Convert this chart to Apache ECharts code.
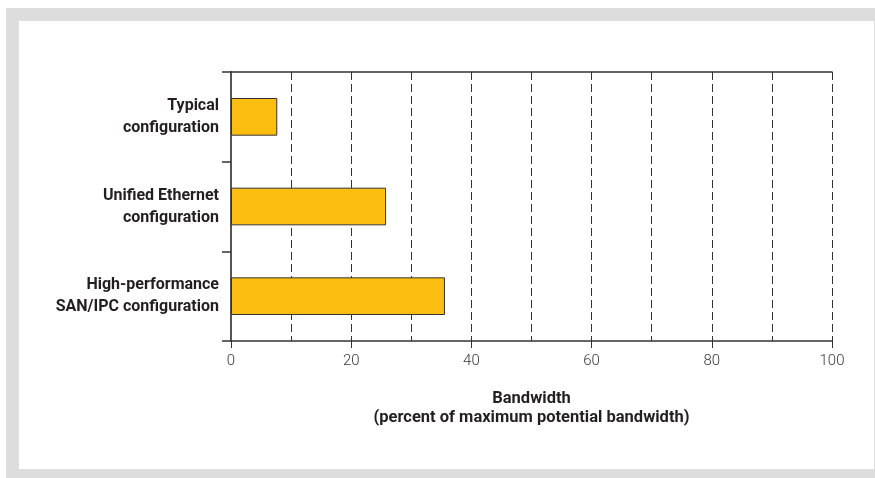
<!DOCTYPE html>
<html>
<head>
<meta charset="utf-8">
<script src="https://cdn.jsdelivr.net/npm/echarts@6/dist/echarts.min.js"></script>
<style>
  html, body { margin: 0; padding: 0; background: #ffffff; }
  #chart { width: 875px; height: 478px; }
</style>
</head>
<body>
<div id="chart"></div>
<script>
// Configurations compared, top to bottom
const categories = [
  'Typical\nconfiguration',
  'Unified Ethernet\nconfiguration',
  'High-performance\nSAN/IPC configuration'
];
// Bandwidth used, percent of maximum potential bandwidth
const bandwidth = [7.7, 25.8, 35.6];
// Bandwidth axis
const axisMin = 0;
const axisMax = 100;
const axisStep = 20;
const axisTitle = 'Bandwidth\n(percent of maximum potential bandwidth)';

const FONT = "Roboto, 'Liberation Sans', sans-serif";
const INK = '#231f20';
const dashed = { type: [8, 4], color: '#333333', width: 1 };

const chart = echarts.init(document.getElementById('chart'), null, { renderer: 'canvas' });

chart.setOption({
  animation: false,
  backgroundColor: '#ffffff',
  graphic: [
    // grey frame with white panel
    { type: 'rect', silent: true, z: -10,
      shape: { x: 6, y: 8, width: 869, height: 470 },
      style: { fill: '#dcdddc' } },
    { type: 'rect', silent: true, z: -9,
      shape: { x: 19, y: 21, width: 855, height: 448 },
      style: { fill: '#ffffff' } }
  ],
  grid: { left: 231, right: 43, top: 72, bottom: 137, containLabel: false },
  xAxis: [
    {
      type: 'value',
      position: 'bottom',
      min: axisMin,
      max: axisMax,
      interval: axisStep,
      axisLine: { show: true, lineStyle: { color: '#333333', width: 1.5 } },
      axisTick: { show: true, length: 7, inside: false, lineStyle: { color: '#333333', width: 1 } },
      minorTick: { show: false, splitNumber: 2 },
      splitLine: { show: true, lineStyle: dashed },
      minorSplitLine: { show: true, lineStyle: dashed },
      axisLabel: { color: '#3a3a3a', fontFamily: FONT, fontWeight: 300, fontSize: 15, margin: 13 },
      name: axisTitle,
      nameLocation: 'middle',
      nameGap: 48,
      nameTextStyle: { color: INK, fontFamily: FONT, fontWeight: 'bold', fontSize: 16.5, lineHeight: 19 }
    },
    {
      // top border of the plot
      type: 'value',
      position: 'top',
      min: axisMin,
      max: axisMax,
      axisLine: { show: true, lineStyle: { color: '#333333', width: 1.5 } },
      axisTick: { show: false },
      axisLabel: { show: false },
      splitLine: { show: false }
    }
  ],
  yAxis: [
    {
      type: 'category',
      data: categories,
      inverse: true,
      position: 'left',
      axisLine: { show: true, lineStyle: { color: '#333333', width: 1.5 } },
      axisTick: { show: true, length: 9, alignWithLabel: false, lineStyle: { color: '#333333', width: 1.5 } },
      axisLabel: {
        color: INK, fontFamily: FONT, fontWeight: 'bold', fontSize: 16,
        lineHeight: 22, margin: 12, align: 'right'
      },
      splitLine: { show: false }
    },
    {
      // right border of the plot
      type: 'category',
      data: categories,
      inverse: true,
      position: 'right',
      axisLine: { show: true, lineStyle: { color: '#555555', width: 2 } },
      axisTick: { show: false },
      axisLabel: { show: false },
      splitLine: { show: false }
    }
  ],
  series: [
    {
      type: 'bar',
      data: bandwidth,
      barWidth: '42%',
      itemStyle: { color: '#fdbe12', borderColor: '#333333', borderWidth: 1 },
      emphasis: { disabled: true }
    }
  ]
});
</script>
</body>
</html>
